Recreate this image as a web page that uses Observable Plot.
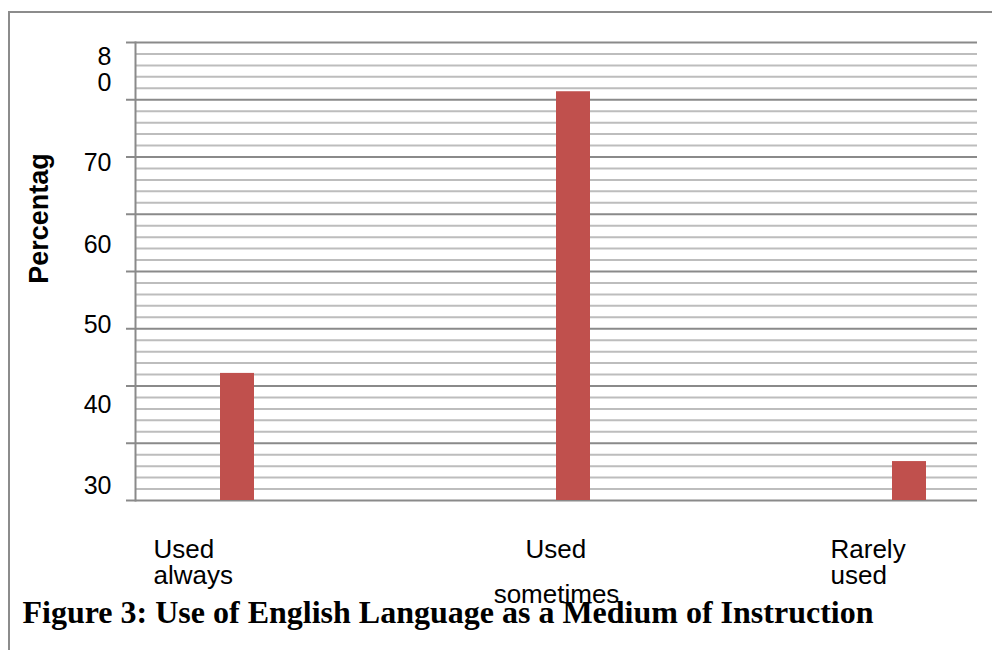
<!DOCTYPE html>
<html>
<head>
<meta charset="utf-8">
<script src="https://cdn.jsdelivr.net/npm/d3@7"></script>
<script src="https://cdn.jsdelivr.net/npm/@observablehq/plot@0.6"></script>
<style>
  html, body { margin: 0; padding: 0; background: #fff; }
  #wrap { position: relative; width: 992px; height: 650px; overflow: hidden; }
  #border { position: absolute; left: 8px; top: 11px; width: 1000px; height: 700px;
            border-left: 2px solid #8c8c8c; border-top: 2px solid #8c8c8c; }
  #chart { position: absolute; left: 0; top: 0; }
</style>
</head>
<body>
<div id="wrap"><div id="border"></div><div id="chart"></div></div>
<script>
// ---- data ----
const categories = ["Used always", "Used sometimes", "Rarely used"];
const values = [22.2, 71.4, 6.8];
const yTickLabels = ["30", "40", "50", "60", "70", "8\n0"];
const yLabelAt = [2.6, 16.8, 30.8, 44.8, 59.1, 75.3]; // where the (shifted) labels sit on the value axis
const majorTicks = d3.range(0, 81, 10);
const minorTicks = d3.range(0, 81, 2).filter(d => d % 10 !== 0);
const yTitle = "Percentag";
const title = "Figure 3: Use of English Language as a Medium of Instruction";

const data = categories.map((c, i) => ({category: c, value: values[i]}));

const font = "'Liberation Sans', Arial, sans-serif";
const labelFont = 26;

const chart = Plot.plot({
  width: 992,
  height: 650,
  marginTop: 42,
  marginRight: 15,
  marginBottom: 150,
  marginLeft: 135,
  style: {fontFamily: font, background: "transparent", overflow: "visible"},
  x: {type: "band", domain: categories, paddingInner: 0.9, paddingOuter: 0.2, align: 0.625, axis: null},
  y: {domain: [0, 80], axis: null},
  marks: [
    Plot.ruleY(minorTicks, {stroke: "#bdbdbd", strokeWidth: 2}),
    Plot.ruleY(majorTicks, {stroke: "#8a8a8a", strokeWidth: 2}),
    Plot.axisY({ticks: majorTicks, tickSize: 9, tickFormat: () => "", label: null,
                stroke: "#8a8a8a", strokeWidth: 2, strokeOpacity: 1}),
    Plot.frame({anchor: "left", stroke: "#8a8a8a", strokeWidth: 2}),
    Plot.barY(data, {x: "category", y: "value", fill: "#C0504D"}),
    Plot.axisY({ticks: yLabelAt, tickSize: 0, tickPadding: 24, fontSize: 25, lineHeight: 1.06, label: null,
                tickFormat: (d, i) => yTickLabels[i], fill: "#000"}),
    Plot.text([yTitle], {frameAnchor: "top-left", dx: -96, dy: 176, rotate: -90, fontSize: 27, fontWeight: "bold",
                         textAnchor: "middle", lineAnchor: "middle", fill: "#000"}),
    // category labels (as laid out in the figure)
    Plot.text([categories[0]], {x: d => d, text: () => "Used\nalways", frameAnchor: "bottom", dx: -84, dy: 39,
                                textAnchor: "start", lineAnchor: "top", lineHeight: 1.0, fontSize: labelFont}),
    Plot.text([categories[1]], {x: d => d, text: () => "Used", frameAnchor: "bottom", dx: -48, dy: 39,
                                textAnchor: "start", lineAnchor: "top", fontSize: labelFont}),
    Plot.text([categories[1]], {x: d => d, text: () => "sometimes", frameAnchor: "bottom", dx: -17, dy: 84,
                                textAnchor: "middle", lineAnchor: "top", fontSize: labelFont}),
    Plot.text([categories[2]], {x: d => d, text: () => "Rarely\nused", frameAnchor: "bottom", dx: -79, dy: 39,
                                textAnchor: "start", lineAnchor: "top", lineHeight: 1.0, fontSize: labelFont}),
    Plot.text([title], {frameAnchor: "bottom-left", dx: -113, dy: 100, textAnchor: "start", lineAnchor: "top",
                        fontSize: 32, fontWeight: "bold", fontFamily: "'Liberation Serif', 'Times New Roman', serif", fill: "#000"})
  ]
});
document.getElementById("chart").appendChild(chart);
</script>
</body>
</html>
